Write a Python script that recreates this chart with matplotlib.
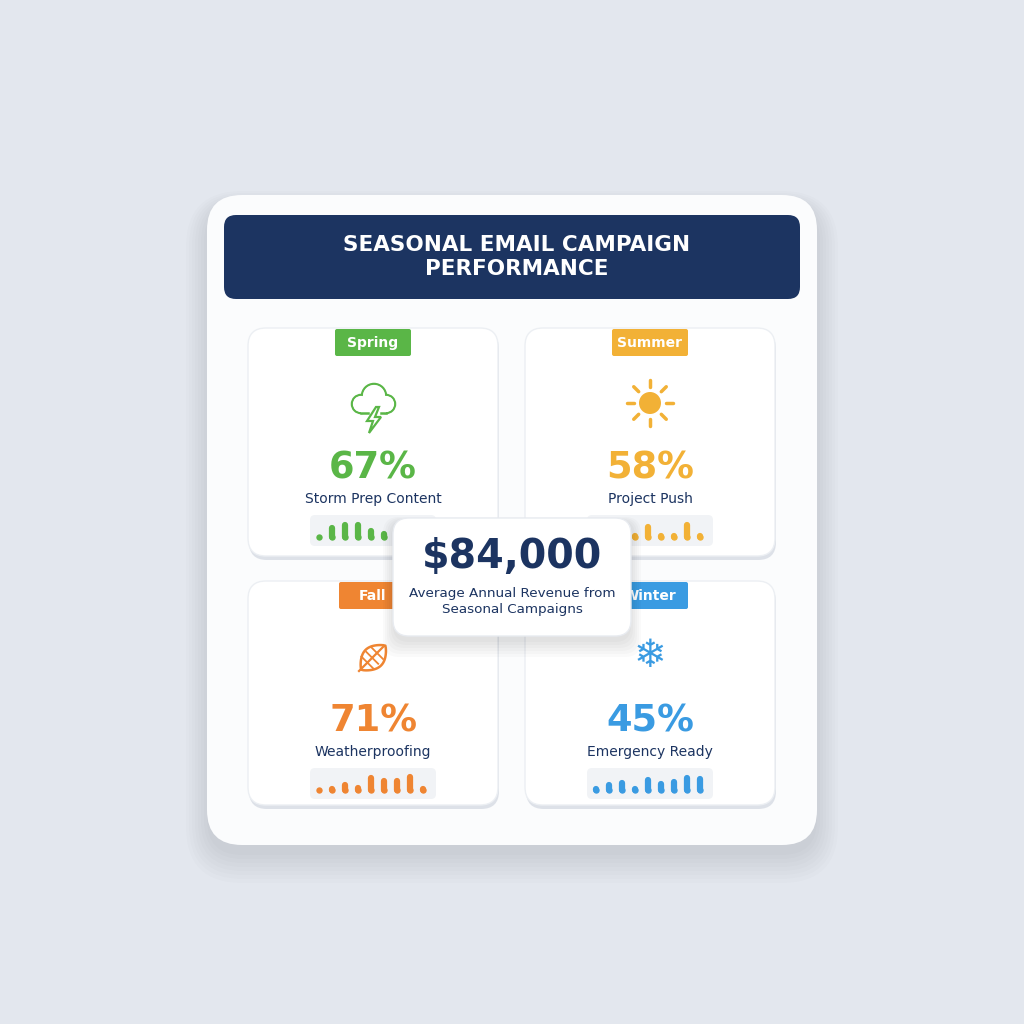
import matplotlib
matplotlib.use("Agg")
import matplotlib.pyplot as plt
from matplotlib.patches import FancyBboxPatch, Circle, Polygon
import numpy as np

plt.rcParams['font.family'] = ['DejaVu Sans']

seasons = ["Spring", "Summer", "Fall", "Winter"]
percents = ["67%", "58%", "71%", "45%"]
labels = ["Storm Prep Content", "Project Push", "Weatherproofing", "Emergency Ready"]
colors = ["#5ab647", "#f2b136", "#ef8532", "#3a9be2"]
spark = {
    "Spring": [1.0, 3.0, 3.5, 3.5, 2.2, 1.6, 2.5, 3.0, 1.5],
    "Summer": [2.0, 1.5, 2.5, 1.2, 3.2, 1.2, 1.2, 3.5, 1.2],
    "Fall": [1.0, 1.2, 2.0, 1.5, 3.6, 2.9, 2.9, 3.8, 1.2],
    "Winter": [1.2, 2.0, 2.4, 1.2, 3.2, 2.2, 2.7, 3.6, 3.4],
}
title = "SEASONAL EMAIL CAMPAIGN\nPERFORMANCE"
revenue = "$84,000"
revenue_label = "Average Annual Revenue from\nSeasonal Campaigns"
NAVY = "#1c3461"

fig = plt.figure(figsize=(10.24, 10.24), dpi=100)
fig.patch.set_facecolor("#e3e7ee")
ax = fig.add_axes([0, 0, 1, 1])
ax.set_xlim(0, 1024); ax.set_ylim(1024, 0); ax.axis("off")

def rbox(x0, y0, x1, y1, r, fc, ec="none", z=1, lw=0, alpha=1):
    p = FancyBboxPatch((x0 + r, y0 + r), x1 - x0 - 2 * r, y1 - y0 - 2 * r,
                       boxstyle=f"round,pad={r}", fc=fc, ec=ec, lw=lw, zorder=z, alpha=alpha)
    ax.add_patch(p)

for i in range(8):
    rbox(207 - i * 3, 205 - i * 2, 817 + i * 3, 855 + i * 4, 35 + i * 3, "#000000", z=0.5, alpha=0.012)
rbox(207, 195, 817, 845, 35, "#fbfcfd", z=1)
rbox(224, 215, 800, 299, 12, NAVY, z=2)
ax.text(517, 257, title, ha="center", va="center", color="white", fontsize=15.5,
        fontweight="bold", linespacing=1.3, zorder=3)

cards = [(248, 328, 498, 556), (525, 328, 775, 556), (248, 581, 498, 805), (525, 581, 775, 805)]
for k, (s, (x0, y0, x1, y1)) in enumerate(zip(seasons, cards)):
    c = colors[k]
    rbox(x0 + 1, y0 + 3, x1 + 1, y1 + 4, 18, "#dde1e8", z=1.5)
    rbox(x0, y0, x1, y1, 18, "white", ec="#eceff3", lw=1, z=2)
    cx = (x0 + x1) / 2
    bw = 76 if s != "Fall" else 68
    rbox(cx - bw / 2, y0 + 1, cx + bw / 2, y0 + 28, 2, c, z=3)
    ax.text(cx, y0 + 15, s, ha="center", va="center", color="white", fontsize=10,
            fontweight="semibold", zorder=4)
    iy = y0 + 77
    if s == "Spring":
        for (dx, dy, r) in [(-12, 2, 9), (1, -6, 12), (13, 2, 9)]:
            ax.add_patch(Circle((cx + dx, iy + dy - 3), r, fc="none", ec=c, lw=1.8, zorder=4))
        for (dx, dy, r) in [(-12, 2, 9), (1, -6, 12), (13, 2, 9)]:
            ax.add_patch(Circle((cx + dx, iy + dy - 3), r - 0.9, fc="white", ec="none", zorder=4.2))
        ax.add_patch(Polygon([[cx - 12, iy - 4], [cx + 13, iy - 4], [cx + 13, iy + 8], [cx - 12, iy + 8]],
                             fc="white", ec="none", zorder=4.3))
        ax.plot([cx - 12, cx - 5], [iy + 8, iy + 8], color=c, lw=1.8, zorder=5)
        ax.plot([cx + 8, cx + 13], [iy + 8, iy + 8], color=c, lw=1.8, zorder=5)
        ax.add_patch(Polygon([[cx + 3, iy + 2], [cx - 6, iy + 16], [cx, iy + 16], [cx - 4, iy + 28],
                              [cx + 8, iy + 12], [cx + 2, iy + 12], [cx + 6, iy + 2]],
                             fc="white", ec=c, lw=1.6, zorder=6))
    elif s == "Summer":
        ax.add_patch(Circle((cx, iy - 2), 11, fc=c, ec="none", zorder=4))
        for a in np.linspace(0, 2 * np.pi, 8, endpoint=False):
            ax.plot([cx + 16 * np.cos(a), cx + 23 * np.cos(a)],
                    [iy - 2 + 16 * np.sin(a), iy - 2 + 23 * np.sin(a)], color=c, lw=2.5,
                    solid_capstyle="round", zorder=4)
    elif s == "Fall":
        xs, ys = [], []
        for u in np.linspace(0, 1, 30):
            xs.append(-18 + 34 * u); ys.append(-11 * np.sin(np.pi * u) ** 0.8)
        for u in np.linspace(1, 0, 30):
            xs.append(-18 + 34 * u); ys.append(11 * np.sin(np.pi * u) ** 0.8)
        xs, ys = np.array(xs), np.array(ys)
        ang = -np.pi / 4
        X = cx + 1 + xs * np.cos(ang) - ys * np.sin(ang)
        Y = iy - 1 + xs * np.sin(ang) + ys * np.cos(ang)
        ax.add_patch(Polygon(np.c_[X, Y], closed=True, fc="none", ec=c, lw=1.8, zorder=4))
        ax.plot([cx - 14, cx + 10], [iy + 13, iy - 11], color=c, lw=1.6, zorder=4)
        for t in [0.35, 0.55, 0.75]:
            px, py = cx - 14 + 24 * t, iy + 13 - 24 * t
            ax.plot([px, px - 6], [py, py - 6], color=c, lw=1.3, zorder=4)
            ax.plot([px, px + 6], [py, py + 6], color=c, lw=1.3, zorder=4)
    else:
        ax.text(cx, iy - 2, "\u2744", ha="center", va="center", fontsize=28, color=c, zorder=4)
    ax.text(cx, y0 + 140, percents[k], ha="center", va="center", color=c, fontsize=26.5,
            fontweight="bold", zorder=4)
    ax.text(cx, y0 + 171, labels[k], ha="center", va="center", color=NAVY, fontsize=10,
            zorder=4)
    sy0 = y0 + 187
    rbox(cx - 63, sy0, cx + 63, sy0 + 31, 5, "#f1f3f6", z=3)
    sax = fig.add_axes([(cx - 60) / 1024, 1 - (sy0 + 25) / 1024, 116 / 1024, 20 / 1024])
    sax.axis("off")
    v = spark[s]
    xs = np.arange(len(v))
    for xi, vi in zip(xs, v):
        sax.plot([xi, xi], [0, vi - 1.0], color=c, lw=4.5, solid_capstyle="round",
                 clip_on=False)
    sax.scatter(xs, np.zeros(len(v)), s=21, color=c, lw=0, clip_on=False)
    sax.set_xlim(-0.5, len(v) - 0.5); sax.set_ylim(-0.6, 3.6)
    sax.set_zorder(3)

cax = fig.add_axes([0, 0, 1, 1], facecolor="none")
cax.set_xlim(0, 1024); cax.set_ylim(1024, 0); cax.axis("off"); cax.set_zorder(10)
for i in range(6):
    cax.add_patch(FancyBboxPatch((393 + 16 - i * 2, 522 + 16 - i), 238 - 32 + i * 4, 120 - 32 + i * 4,
                                 boxstyle="round,pad=16", fc="black", ec="none", alpha=0.02))
cax.add_patch(FancyBboxPatch((393 + 16, 518 + 16), 238 - 32, 118 - 32, boxstyle="round,pad=16",
                             fc="white", ec="#e8ebf0", lw=1))
cax.text(512, 557, revenue, ha="center", va="center", color=NAVY, fontsize=28.5, fontweight="bold")
cax.text(512, 601, revenue_label, ha="center", va="center", color=NAVY, fontsize=9.7,
         linespacing=1.3)

fig.savefig("out.png", dpi=100, facecolor=fig.get_facecolor())
